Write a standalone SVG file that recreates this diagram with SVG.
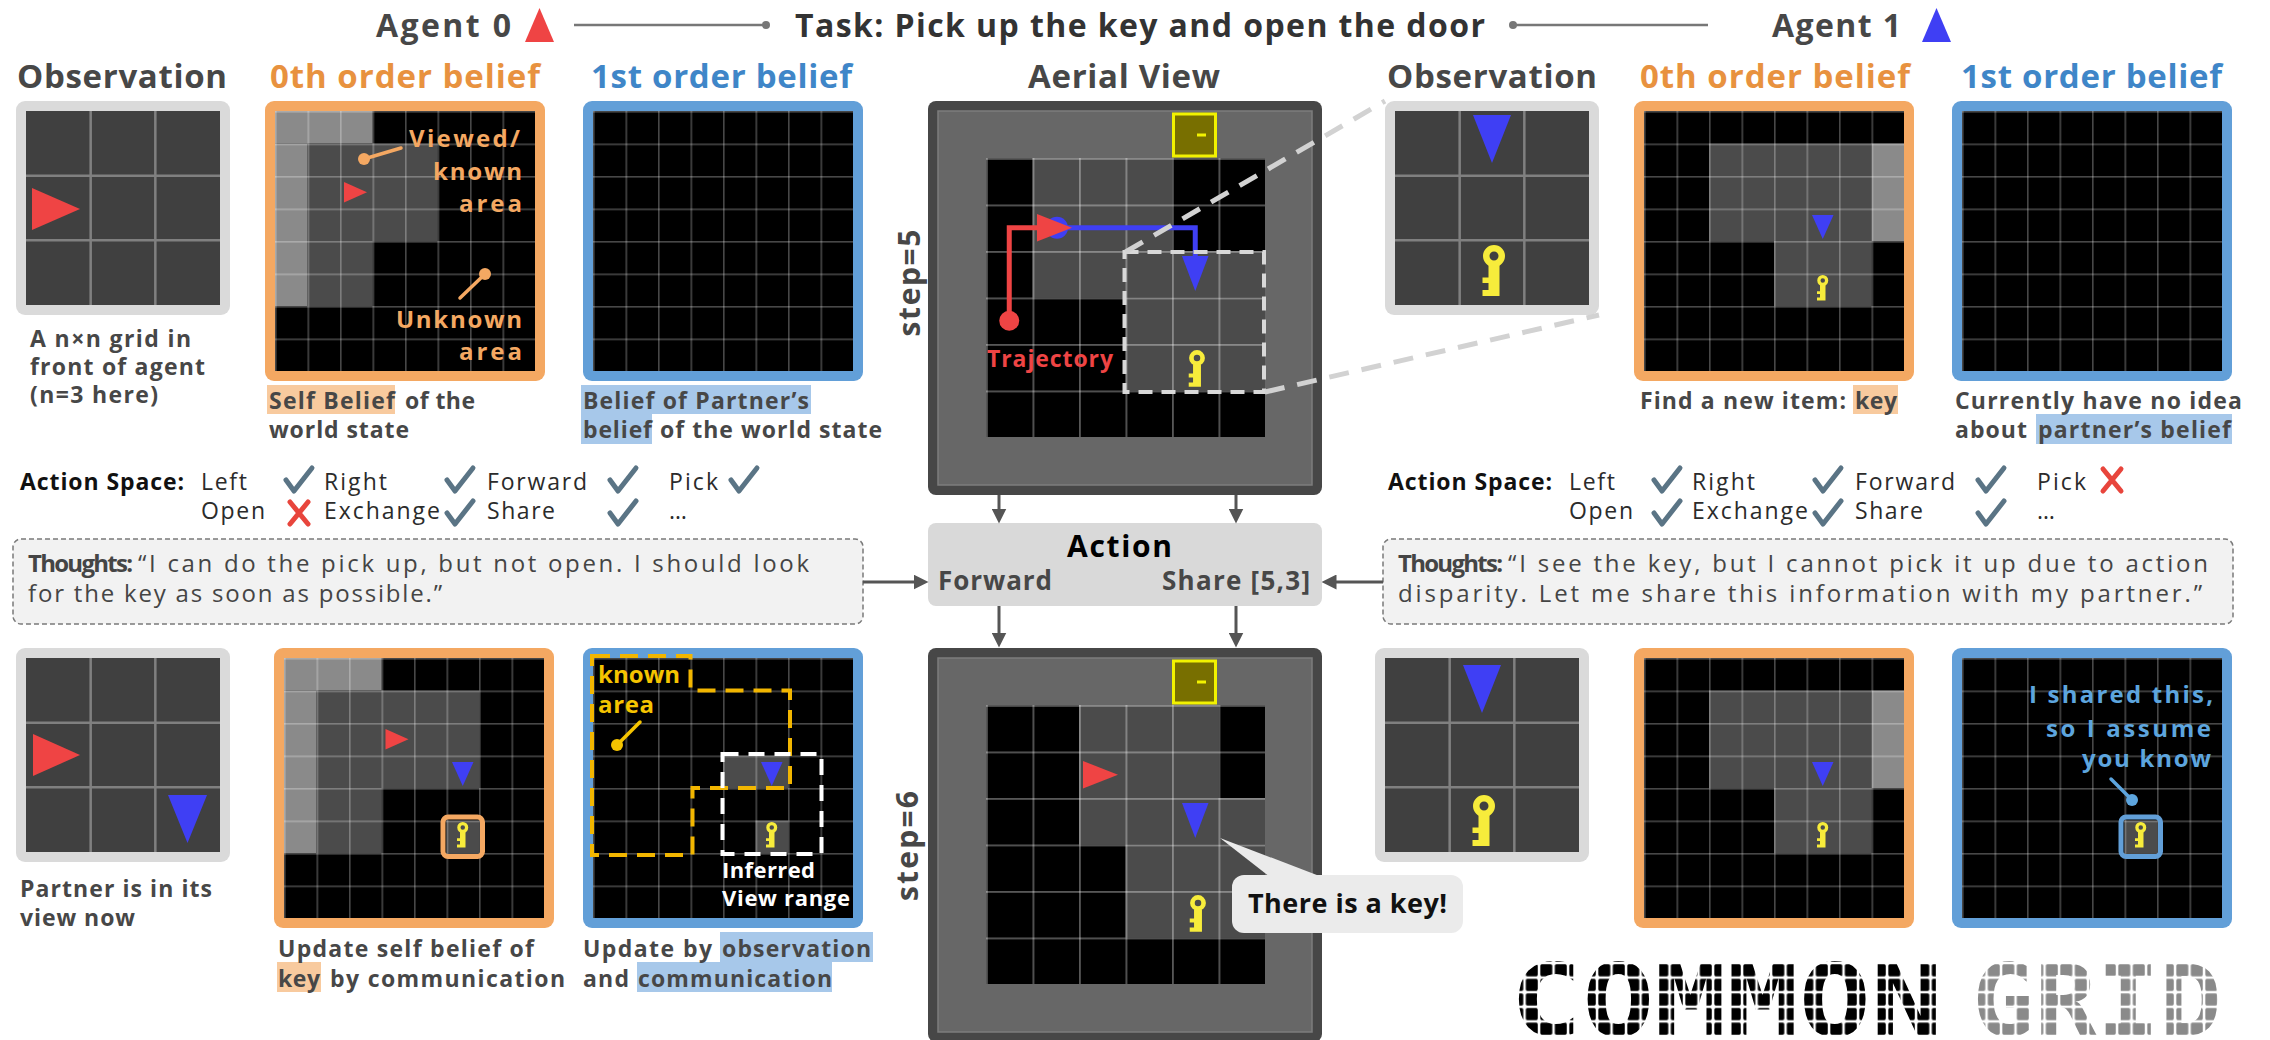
<svg xmlns="http://www.w3.org/2000/svg" width="2270" height="1040" viewBox="0 0 2270 1040">
<style>
text{font-family:"Open Sans","Liberation Sans",sans-serif}
.hd{font-size:32px;font-weight:700;fill:#474747}
.tk{fill:#333}
.ttl{font-size:33px;font-weight:700;fill:#474747}
.og{fill:#E8923F}
.bl{fill:#3F86C8}
.cap{font-size:23px;font-weight:700;fill:#474747}
.th{font-size:24px;fill:#454545}
.b{font-weight:700}
.as{font-size:23px;fill:#2b2b2b}
.asb{font-weight:700;fill:#111}
.ann{font-size:24px;font-weight:700}
.step{font-size:30px;font-weight:700;fill:#474747}
.obsbox{fill:#DADADA}
.ofr{fill:#F4A862}
.bfr{fill:#629FD8}
.dk{fill:#4B4B4B}
.lt{fill:#8A8A8A}
.red{fill:#EF4444}
.blu{fill:#3F3FF4}
.hlo{fill:#F8CA9E}
.hlb{fill:#A7C8EA}
.logo{font-family:"DejaVu Sans Mono","Liberation Mono",monospace;font-size:100px;font-weight:700}
</style>
<defs>
  <!-- cell separators for the 8x8 belief maps -->
  <pattern id="gl8" width="32.5" height="32.5" patternUnits="userSpaceOnUse">
    <rect width="32.5" height="1.6" fill="#fff" fill-opacity="0.28"/>
    <rect width="1.6" height="32.5" fill="#fff" fill-opacity="0.28"/>
  </pattern>
  <!-- cell separators for the 6x6 aerial maps -->
  <pattern id="gl6" width="46.5" height="46.5" patternUnits="userSpaceOnUse">
    <rect width="46.5" height="1.8" fill="#fff" fill-opacity="0.34"/>
    <rect width="1.8" height="46.5" fill="#fff" fill-opacity="0.34"/>
  </pattern>
  <!-- 3x3 observation grid -->
  <g id="obsgrid">
    <rect width="194" height="194" fill="#404040"/>
    <path d="M64.67,0V194M129.33,0V194M0,64.67H194M0,129.33H194" stroke="#808080" stroke-width="2.5"/>
  </g>
  <!-- key item, ring centred on the origin -->
  <g id="key">
    <circle r="7.75" fill="none" stroke="#F7EC3B" stroke-width="6.5"/>
    <path d="M-5.5,9H5.5V40H-11.5V34H-5.5V27H-11.5V21.5H-5.5Z" fill="#F7EC3B"/>
  </g>
  <path id="ck" d="M2,13 L10,24 L28,1" fill="none" stroke="#5A7485" stroke-width="5" stroke-linecap="round" stroke-linejoin="round"/>
  <path id="xx" d="M6,2 L24,24 M24,2 L6,24" fill="none" stroke="#E8453C" stroke-width="5" stroke-linecap="round"/>
  <marker id="ah" viewBox="0 0 12 12" refX="6" refY="6" markerWidth="15" markerHeight="15" markerUnits="userSpaceOnUse" orient="auto">
    <path d="M0,0L12,6L0,12Z" fill="#555"/>
  </marker>
  <!-- segmented block look for the wordmark -->
  <pattern id="segK" x="1510" y="963" width="14.5" height="14.6" patternUnits="userSpaceOnUse">
    <rect width="14.5" height="14.6" fill="#fff"/>
    <rect x="1.3" y="1.3" width="12" height="12" rx="1.5" fill="#000"/>
  </pattern>
  <pattern id="segG" x="1972" y="963" width="14.5" height="14.6" patternUnits="userSpaceOnUse">
    <rect width="14.5" height="14.6" fill="#fff"/>
    <rect x="1.3" y="1.3" width="12" height="12" rx="1.5" fill="#8A8A8A"/>
  </pattern>
</defs>

<rect width="2270" height="1040" fill="#fff"/>

<!-- title row -->
<g id="header">
  <text class="hd" x="376" y="37" textLength="135">Agent 0</text>
  <polygon points="539.5,8 554,42 525,42" class="red"/>
  <text class="hd tk" x="795" y="37" textLength="690">Task: Pick up the key and open the door</text>
  <text class="hd" x="1772" y="37" textLength="129">Agent 1</text>
  <polygon points="1936.5,8 1951,42 1922,42" class="blu"/>
</g>

<!-- column titles -->
<g id="column-titles">
  <text class="ttl" x="17" y="88" textLength="210">Observation</text>
  <text class="ttl og" x="270" y="88" textLength="270">0th order belief</text>
  <text class="ttl bl" x="591" y="88" textLength="261">1st order belief</text>
  <text class="ttl" x="1028" y="88" textLength="192">Aerial View</text>
  <text class="ttl" x="1387" y="88" textLength="210">Observation</text>
  <text class="ttl og" x="1640" y="88" textLength="270">0th order belief</text>
  <text class="ttl bl" x="1961" y="88" textLength="261">1st order belief</text>
</g>

<!-- ===== step 5 ===== -->
<g id="agent0-observation-step5">
  <rect x="16" y="101" width="214" height="214" rx="9" class="obsbox"/>
  <use href="#obsgrid" x="26" y="111"/>
  <polygon points="32,188 80,209 32,230" class="red"/>
  <text class="cap" x="30" y="347" textLength="161">A n×n grid in</text>
  <text class="cap" x="30" y="375" textLength="175">front of agent</text>
  <text class="cap" x="30" y="403" textLength="128">(n=3 here)</text>
</g>

<g id="agent0-belief0-step5">
  <rect x="265" y="101" width="280" height="280" rx="9" class="ofr"/>
  <g transform="translate(275,111)">
    <rect width="260" height="260" fill="#000"/>
    <rect width="97.5" height="32.5" class="lt"/>
    <rect y="32.5" width="32.5" height="162.5" class="lt"/>
    <rect x="32.5" y="32.5" width="130" height="97.5" class="dk"/>
    <rect x="32.5" y="130" width="65" height="65" class="dk"/>
    <rect width="260" height="260" fill="url(#gl8)"/>
    <polygon points="69,71 92,81.25 69,91.5" class="red"/>
  </g>
  <g fill="#F4A862">
    <text class="ann" x="409" y="147" textLength="111" fill="#F4A862">Viewed/</text>
    <text class="ann" x="433" y="180" textLength="89" fill="#F4A862">known</text>
    <text class="ann" x="459" y="212" textLength="63" fill="#F4A862">area</text>
    <text class="ann" x="396" y="328" textLength="126" fill="#F4A862">Unknown</text>
    <text class="ann" x="459" y="360" textLength="63" fill="#F4A862">area</text>
    <line x1="364" y1="159" x2="401" y2="148" stroke="#F4A862" stroke-width="3.5" stroke-linecap="round"/>
    <circle cx="364" cy="159" r="6"/>
    <line x1="485" y1="274" x2="460" y2="298" stroke="#F4A862" stroke-width="3.5" stroke-linecap="round"/>
    <circle cx="485" cy="274" r="6"/>
  </g>
  <rect x="267" y="385" width="128" height="29" class="hlo"/>
  <text class="cap" x="269" y="409" textLength="126">Self Belief</text>
  <text class="cap" x="405" y="409" textLength="70">of the</text>
  <text class="cap" x="269" y="438" textLength="140">world state</text>
</g>

<g id="agent0-belief1-step5">
  <rect x="583" y="101" width="280" height="280" rx="9" class="bfr"/>
  <g transform="translate(593,111)">
    <rect width="260" height="260" fill="#000"/>
    <rect width="260" height="260" fill="url(#gl8)"/>
  </g>
  <rect x="581" y="385" width="230" height="29" class="hlb"/>
  <rect x="581" y="414" width="71" height="30" class="hlb"/>
  <text class="cap" x="583" y="409" textLength="226">Belief of Partner’s</text>
  <text class="cap" x="583" y="438" textLength="69">belief</text>
  <text class="cap" x="660" y="438" textLength="222">of the world state</text>
</g>

<g id="aerial-step5">
  <rect x="928" y="101" width="394" height="394" rx="8" fill="#474747"/>
  <rect x="938" y="111" width="374" height="374" fill="#676767" stroke="#7d7d7d" stroke-width="1.5"/>
  <text class="step" transform="translate(920,283) rotate(-90)" text-anchor="middle" textLength="107">step=5</text>
  <g transform="translate(986,158)">
    <rect width="279" height="279" fill="#000"/>
    <rect x="46.5" width="139.5" height="93" class="dk"/>
    <rect x="46.5" y="93" width="232.5" height="46.5" class="dk"/>
    <rect x="139.5" y="139.5" width="139.5" height="93" class="dk"/>
    <rect width="279" height="279" fill="url(#gl6)"/>
    <rect x="187.5" y="-44" width="42" height="42" fill="#786F00" stroke="#F2F200" stroke-width="3"/>
    <line x1="211" y1="-23" x2="220" y2="-23" stroke="#F2F200" stroke-width="3"/>
    <use href="#key" transform="translate(211,200) scale(0.72)"/>
    <!-- partner path -->
    <path d="M71,69.75 H209.25 V100" fill="none" stroke="#3F3FF4" stroke-width="5"/>
    <circle cx="71" cy="69.75" r="11" class="blu"/>
    <polygon points="196,98 222.5,98 209.25,133" class="blu"/>
    <!-- own path -->
    <path d="M23.25,162.75 V69.75 H53" fill="none" stroke="#EF4444" stroke-width="5"/>
    <circle cx="23.25" cy="162.75" r="10" class="red"/>
    <polygon points="51,56 86,69.75 51,83.5" class="red"/>
    <rect x="138.5" y="94" width="139.5" height="140" fill="none" stroke="#D8D8D8" stroke-width="4" stroke-dasharray="14 9"/>
    <text x="1" y="209" textLength="126" style="font-size:23px;font-weight:700" fill="#EF4444">Trajectory</text>
  </g>
</g>

<g id="agent1-observation-step5">
  <rect x="1385" y="101" width="214" height="214" rx="9" class="obsbox"/>
  <use href="#obsgrid" x="1395" y="111"/>
  <polygon points="1473,115 1511,115 1492,163" class="blu"/>
  <use href="#key" transform="translate(1494,256)"/>
</g>

<g id="agent1-belief0-step5">
  <rect x="1634" y="101" width="280" height="280" rx="9" class="ofr"/>
  <g transform="translate(1644,111)">
    <rect width="260" height="260" fill="#000"/>
    <rect x="227.5" y="32.5" width="32.5" height="97.5" class="lt"/>
    <rect x="65" y="32.5" width="162.5" height="97.5" class="dk"/>
    <rect x="130" y="130" width="97.5" height="65" class="dk"/>
    <rect width="260" height="260" fill="url(#gl8)"/>
    <polygon points="168,104 189.5,104 178.75,128" class="blu"/>
    <use href="#key" transform="translate(178.75,169.5) scale(0.5)"/>
  </g>
  <rect x="1853" y="385" width="45" height="29" class="hlo"/>
  <text class="cap" x="1640" y="409" textLength="206">Find a new item:</text>
  <text class="cap" x="1855" y="409" textLength="42">key</text>
</g>

<g id="agent1-belief1-step5">
  <rect x="1952" y="101" width="280" height="280" rx="9" class="bfr"/>
  <g transform="translate(1962,111)">
    <rect width="260" height="260" fill="#000"/>
    <rect width="260" height="260" fill="url(#gl8)"/>
  </g>
  <rect x="2036" y="414" width="196" height="30" class="hlb"/>
  <text class="cap" x="1955" y="409" textLength="287">Currently have no idea</text>
  <text class="cap" x="1955" y="438" textLength="72">about</text>
  <text class="cap" x="2038" y="438" textLength="193">partner’s belief</text>
</g>

<!-- action spaces -->
<g id="action-space-agent0">
  <text class="as asb" x="20" y="490" textLength="164">Action Space:</text>
  <text class="as" x="201" y="490" textLength="46">Left</text>
  <text class="as" x="324" y="490" textLength="63">Right</text>
  <text class="as" x="487" y="490" textLength="100">Forward</text>
  <text class="as" x="669" y="490" textLength="49">Pick</text>
  <text class="as" x="201" y="519" textLength="64">Open</text>
  <text class="as" x="324" y="519" textLength="116">Exchange</text>
  <text class="as" x="487" y="519" textLength="68">Share</text>
  <text class="as" x="669" y="519">…</text>
  <use href="#ck" x="284" y="467"/>
  <use href="#ck" x="445" y="467"/>
  <use href="#ck" x="608" y="467"/>
  <use href="#ck" x="729" y="467"/>
  <use href="#xx" x="284" y="500"/>
  <use href="#ck" x="445" y="500"/>
  <use href="#ck" x="608" y="500"/>
</g>

<g id="action-space-agent1">
  <text class="as asb" x="1388" y="490" textLength="164">Action Space:</text>
  <text class="as" x="1569" y="490" textLength="46">Left</text>
  <text class="as" x="1692" y="490" textLength="63">Right</text>
  <text class="as" x="1855" y="490" textLength="100">Forward</text>
  <text class="as" x="2037" y="490" textLength="49">Pick</text>
  <text class="as" x="1569" y="519" textLength="64">Open</text>
  <text class="as" x="1692" y="519" textLength="116">Exchange</text>
  <text class="as" x="1855" y="519" textLength="68">Share</text>
  <text class="as" x="2037" y="519">…</text>
  <use href="#ck" x="1652" y="467"/>
  <use href="#ck" x="1813" y="467"/>
  <use href="#ck" x="1976" y="467"/>
  <use href="#xx" x="2097" y="467"/>
  <use href="#ck" x="1652" y="500"/>
  <use href="#ck" x="1813" y="500"/>
  <use href="#ck" x="1976" y="500"/>
</g>

<!-- reasoning boxes -->
<g id="thoughts-agent0">
  <rect x="13" y="539" width="850" height="85" rx="8" fill="#F2F2F2" stroke="#7a7a7a" stroke-width="1.5" stroke-dasharray="5 3"/>
  <text class="th b" x="28" y="572" textLength="105">Thoughts:</text>
  <text class="th" x="138" y="572" textLength="671">“I can do the pick up, but not open. I should look</text>
  <text class="th" x="28" y="602" textLength="414">for the key as soon as possible.”</text>
</g>

<g id="thoughts-agent1">
  <rect x="1383" y="539" width="850" height="85" rx="8" fill="#F2F2F2" stroke="#7a7a7a" stroke-width="1.5" stroke-dasharray="5 3"/>
  <text class="th b" x="1398" y="572" textLength="105">Thoughts:</text>
  <text class="th" x="1508" y="572" textLength="700">“I see the key, but I cannot pick it up due to action</text>
  <text class="th" x="1398" y="602" textLength="804">disparity. Let me share this information with my partner.”</text>
</g>

<g id="action">
  <rect x="928" y="523" width="394" height="83" rx="8" fill="#D9D9D9"/>
  <text x="1067" y="557" textLength="105" style="font-size:30px;font-weight:700" fill="#000">Action</text>
  <text x="938" y="590" textLength="114" style="font-size:26px;font-weight:700" fill="#474747">Forward</text>
  <text x="1162" y="590" textLength="148" style="font-size:26px;font-weight:700" fill="#474747">Share [5,3]</text>
</g>

<!-- ===== step 6 ===== -->
<g id="agent0-observation-step6">
  <rect x="16" y="648" width="214" height="214" rx="9" class="obsbox"/>
  <use href="#obsgrid" x="26" y="658"/>
  <polygon points="33,734 80,755 33,776" class="red"/>
  <polygon points="168,795 207,795 187.5,843" class="blu"/>
  <text class="cap" x="20" y="897" textLength="192">Partner is in its</text>
  <text class="cap" x="20" y="926" textLength="115">view now</text>
</g>

<g id="agent0-belief0-step6">
  <rect x="274" y="648" width="280" height="280" rx="9" class="ofr"/>
  <g transform="translate(284,658)">
    <rect width="260" height="260" fill="#000"/>
    <rect width="97.5" height="32.5" class="lt"/>
    <rect y="32.5" width="32.5" height="162.5" class="lt"/>
    <rect x="32.5" y="32.5" width="162.5" height="97.5" class="dk"/>
    <rect x="32.5" y="130" width="65" height="65" class="dk"/>
    <rect x="162.5" y="162.5" width="32.5" height="32.5" class="dk"/>
    <rect width="260" height="260" fill="url(#gl8)"/>
    <polygon points="101.5,71 124.5,81.25 101.5,91.5" class="red"/>
    <polygon points="168,104 189.5,104 178.75,128" class="blu"/>
    <rect x="159" y="159" width="39.5" height="39.5" rx="5" fill="none" stroke="#F4A862" stroke-width="5"/>
    <use href="#key" transform="translate(178.75,169.5) scale(0.5)"/>
  </g>
  <rect x="277" y="962" width="44" height="30" class="hlo"/>
  <text class="cap" x="278" y="957" textLength="256">Update self belief of</text>
  <text class="cap" x="278" y="987" textLength="42">key</text>
  <text class="cap" x="330" y="987" textLength="235">by communication</text>
</g>

<g id="agent0-belief1-step6">
  <rect x="583" y="648" width="280" height="280" rx="9" class="bfr"/>
  <g transform="translate(593,658)">
    <rect width="260" height="260" fill="#000"/>
    <rect x="130" y="97.5" width="65" height="32.5" class="dk"/>
    <rect x="162.5" y="162.5" width="32.5" height="32.5" class="dk"/>
    <rect width="260" height="260" fill="url(#gl8)"/>
    <polygon points="168,104 189.5,104 178.75,128" class="blu"/>
    <use href="#key" transform="translate(178.75,169.5) scale(0.5)"/>
    <polygon points="-1,-2 97.5,-2 97.5,32.5 197,32.5 197,130 99.5,130 99.5,197 -1,197" fill="none" stroke="#F2B600" stroke-width="4" stroke-dasharray="18 10"/>
    <rect x="129.5" y="96" width="99" height="100" fill="none" stroke="#fff" stroke-width="4" stroke-dasharray="16 10"/>
  </g>
  <text class="ann" x="598" y="683" textLength="82" fill="#F5C400">known</text>
  <text class="ann" x="598" y="713" textLength="56" fill="#F5C400">area</text>
  <line x1="640" y1="722" x2="617" y2="745" stroke="#F5C400" stroke-width="3.5" stroke-linecap="round"/>
  <circle cx="617" cy="745" r="6" fill="#F5C400"/>
  <text x="722" y="878" textLength="93" style="font-size:22px;font-weight:700" fill="#fff">Inferred</text>
  <text x="722" y="906" textLength="128" style="font-size:22px;font-weight:700" fill="#fff">View range</text>
  <rect x="720" y="932" width="153" height="30" class="hlb"/>
  <rect x="637" y="962" width="195" height="30" class="hlb"/>
  <text class="cap" x="583" y="957" textLength="129">Update by</text>
  <text class="cap" x="722" y="957" textLength="149">observation</text>
  <text class="cap" x="583" y="987" textLength="46">and</text>
  <text class="cap" x="638" y="987" textLength="194">communication</text>
</g>

<g id="aerial-step6">
  <rect x="928" y="648" width="394" height="394" rx="8" fill="#474747"/>
  <rect x="938" y="658" width="374" height="374" fill="#676767" stroke="#7d7d7d" stroke-width="1.5"/>
  <text class="step" transform="translate(918,846) rotate(-90)" text-anchor="middle" textLength="110">step=6</text>
  <g transform="translate(986,705)">
    <rect width="279" height="279" fill="#000"/>
    <rect x="93" width="139.5" height="93" class="dk"/>
    <rect x="93" y="93" width="186" height="46.5" class="dk"/>
    <rect x="139.5" y="139.5" width="139.5" height="93" class="dk"/>
    <rect width="279" height="279" fill="url(#gl6)"/>
    <rect x="187.5" y="-44" width="42" height="42" fill="#786F00" stroke="#F2F200" stroke-width="3"/>
    <line x1="211" y1="-23" x2="220" y2="-23" stroke="#F2F200" stroke-width="3"/>
    <polygon points="97,56 132,69.75 97,83.5" class="red"/>
    <polygon points="196,98 222.5,98 209.25,133" class="blu"/>
    <use href="#key" transform="translate(212,198) scale(0.72)"/>
  </g>
</g>

<g id="speech-bubble">
  <path d="M1220,838 L1270,877 L1322,877 Z" fill="#EBEBEB"/>
  <rect x="1232" y="875" width="231" height="58" rx="12" fill="#EBEBEB"/>
  <text x="1248" y="913" textLength="199" style="font-size:27px;font-weight:700" fill="#111">There is a key!</text>
</g>

<g id="agent1-observation-step6">
  <rect x="1375" y="648" width="214" height="214" rx="9" class="obsbox"/>
  <use href="#obsgrid" x="1385" y="658"/>
  <polygon points="1463,665 1501,665 1482,713" class="blu"/>
  <use href="#key" transform="translate(1484,806)"/>
</g>

<g id="agent1-belief0-step6">
  <rect x="1634" y="648" width="280" height="280" rx="9" class="ofr"/>
  <g transform="translate(1644,658)">
    <rect width="260" height="260" fill="#000"/>
    <rect x="227.5" y="32.5" width="32.5" height="97.5" class="lt"/>
    <rect x="65" y="32.5" width="162.5" height="97.5" class="dk"/>
    <rect x="130" y="130" width="97.5" height="65" class="dk"/>
    <rect width="260" height="260" fill="url(#gl8)"/>
    <polygon points="168,104 189.5,104 178.75,128" class="blu"/>
    <use href="#key" transform="translate(178.75,169.5) scale(0.5)"/>
  </g>
</g>

<g id="agent1-belief1-step6">
  <rect x="1952" y="648" width="280" height="280" rx="9" class="bfr"/>
  <g transform="translate(1962,658)">
    <rect width="260" height="260" fill="#000"/>
    <rect x="162.5" y="162.5" width="32.5" height="32.5" class="dk"/>
    <rect width="260" height="260" fill="url(#gl8)"/>
    <rect x="159" y="159" width="39.5" height="39.5" rx="5" fill="none" stroke="#629FD8" stroke-width="5"/>
    <use href="#key" transform="translate(178.75,169.5) scale(0.5)"/>
  </g>
  <text class="ann" x="2029" y="703" textLength="184" fill="#5DA5DE">I shared this,</text>
  <text class="ann" x="2046" y="737" textLength="165" fill="#5DA5DE">so I assume</text>
  <text class="ann" x="2082" y="767" textLength="129" fill="#5DA5DE">you know</text>
  <line x1="2111" y1="779" x2="2132" y2="800" stroke="#5DA5DE" stroke-width="3.5" stroke-linecap="round"/>
  <circle cx="2132" cy="800" r="6" fill="#5DA5DE"/>
</g>

<g id="logo">
  <text class="logo" x="1510" y="1036" textLength="433" lengthAdjust="spacingAndGlyphs" fill="url(#segK)">COMMON</text>
  <text class="logo" x="1972" y="1036" textLength="250" lengthAdjust="spacingAndGlyphs" fill="url(#segG)">GRID</text>
</g>

<!-- connectors -->
<g id="connectors" fill="none">
  <g stroke="#777" stroke-width="2.5">
    <line x1="574" y1="25" x2="766" y2="25"/>
    <line x1="1513" y1="25" x2="1708" y2="25"/>
  </g>
  <circle cx="766" cy="25" r="4" fill="#777"/>
  <circle cx="1513" cy="25" r="4" fill="#777"/>
  <g stroke="#D2D2D2" stroke-width="5" stroke-dasharray="20 13">
    <line x1="1125.5" y1="252" x2="1385" y2="101"/>
    <line x1="1265" y1="392" x2="1599" y2="315"/>
  </g>
  <g stroke="#555" stroke-width="3" marker-end="url(#ah)">
    <line x1="999" y1="495" x2="999" y2="516"/>
    <line x1="1236" y1="495" x2="1236" y2="516"/>
    <line x1="999" y1="606" x2="999" y2="640"/>
    <line x1="1236" y1="606" x2="1236" y2="640"/>
    <line x1="863" y1="582" x2="921" y2="582"/>
    <line x1="1383" y1="582" x2="1329" y2="582"/>
  </g>
</g>
</svg>
